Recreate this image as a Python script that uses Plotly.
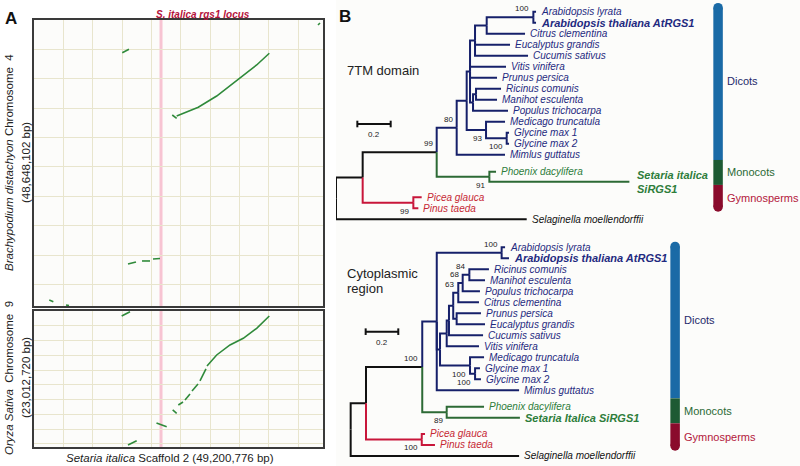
import plotly.graph_objects as go

# ---------------- Panel A: dot plots (values in Mb) ----------------
scaffold_len = 49.200776      # Setaria italica scaffold 2
brachy_len = 48.648102        # Brachypodium chr 4
oryza_len = 23.012720         # Oryza chr 9
locus_mb = (21.37, 21.88)     # S. italica rgs1 locus

# syntenic hits: (scaffold Mb, chromosome Mb from top)
brachy_hits = [
    [(15.03, 5.56), (16.17, 4.98)],
    [(23.54, 16.16), (24.29, 16.72)],
    [(24.29, 16.33), (27.97, 14.85), (31.10, 12.93), (34.51, 10.21), (37.91, 7.65), (40.06, 5.66)],
    [(16.00, 41.50), (17.36, 41.16)],
    [(18.39, 40.99), (19.75, 40.99)],
    [(20.26, 40.65), (21.45, 40.57)],
    [(2.60, 47.63), (3.29, 47.92)],
    [(5.45, 48.48), (5.96, 48.57)],
    [(48.35, 0.85), (48.69, 0.51)],
]
oryza_hits = [
    [(14.93, 0.85), (16.34, 0.12)],
    [(16.00, 22.67), (17.48, 21.95)],
    [(20.85, 18.95), (22.59, 19.58)],
    [(23.61, 16.75), (24.29, 17.31)],
    [(24.57, 15.90), (25.37, 15.40)],
    [(25.71, 15.06), (26.56, 14.04)],
    [(26.90, 13.54), (27.92, 12.35)],
    [(28.26, 11.84), (29.28, 9.81)],
    [(29.45, 9.31), (31.10, 7.44), (33.37, 5.75), (35.63, 4.62), (37.91, 2.93), (40.06, 0.85)],
]

# ---------------- Panel B: trees (branch lengths, bootstrap labels) ----------------
tm_arab = "(Arabidopsis_lyrata:0.016,Arabidopsis_thaliana_AtRGS1:0.016)100:0.280"
tm_g = f"(({tm_arab},Citrus_clementina:0.230):0.070,Eucalyptus_grandis:0.210,Cucumis_sativus:0.318):0.030"
tm_h = "((Ricinus_comunis:0.150,Manihot_esculenta:0.126):0.018,Populus_trichocarpa:0.210):0.018"
tm_t = f"({tm_g},Vitis_vinifera:0.216,Prunus_persica:0.162,{tm_h}):0.020"
tm_m = "(Medicago_truncatula:0.114,(Glycine_max_1:0.014,Glycine_max_2:0.014)100:0.124)93:0.116"
tm_d = f"(({tm_t},{tm_m}):0.060,Mimlus_guttatus:0.290)80:0.120"
tm_mono = "(Phoenix_dacylifera:0.040,Setaria_italica_SiRGS1:0.840)91:0.316"
tm_gym = "(Picea_glauca:0.050,Pinus_taeda:0.030)99:0.304"
newick_7tm = f"((({tm_d},{tm_mono})99:0.444,{tm_gym}):0.160,Selaginella_moellendorffii:1.144);"
rows_7tm = list(range(14)) + [14.55, 15.45, 16.87, 17.87, 18.87]

cy_r = "(Ricinus_comunis:0.120,Manihot_esculenta:0.096)84:0.041"
cy_rmpc = f"(({cy_r},Populus_trichocarpa:0.106)68:0.027,Citrus_clementina:0.127)63:0.031"
cy_pe = "(Prunus_persica:0.149,Eucalyptus_grandis:0.174):0.021"
cy_w = f"((({cy_rmpc},{cy_pe}):0.026,Cucumis_sativus:0.209):0.014,Vitis_vinifera:0.198):0.041"
cy_m = "(Medicago_truncatula:0.086,(Glycine_max_1:0.030,Glycine_max_2:0.036)100:0.031)100:0.184"
cy_arab = "(Arabidopsis_lyrata:0.021,Arabidopsis_thaliana_AtRGS1:0.045)100:0.398"
cy_d = f"({cy_arab},({cy_w},{cy_m}):0.020,Mimlus_guttatus:0.505):0.089"
cy_mono = "(Phoenix_dacylifera:0.229,Setaria_Italica_SiRGS1:0.449)89:0.150"
cy_gym = "(Picea_glauca:0.020,Pinus_taeda:0.081)100:0.342"
newick_cyto = f"((({cy_d},{cy_mono})100:0.345,{cy_gym}):0.094,Selaginella_moellendorffii:1.033);"
rows_cyto = list(range(14)) + [14.49, 15.49, 16.97, 17.97, 18.97]

monocots = ["Phoenix_dacylifera", "Setaria_italica_SiRGS1", "Setaria_Italica_SiRGS1"]
gymnosperms = ["Picea_glauca", "Pinus_taeda"]
outgroup = ["Selaginella_moellendorffii"]

clade_names = ["Dicots", "Monocots", "Gymnosperms"]
clade_spans_7tm = [(-0.80, 13.48), (13.48, 15.75), (15.75, 18.18)]
clade_spans_cyto = [(-0.51, 13.73), (13.73, 16.00), (16.00, 18.49)]

BLUE, GREEN, RED, BLACK = "#16206a", "#2c6a35", "#c8163a", "#111111"
LBLUE, LGREEN, LRED = "#1f2a80", "#2e7d3a", "#c62834"
bar_colors = ["#1a6aa6", "#1d5a33", "#8a0b2c"]
bar_text = ["#1f2a6b", "#2b6a37", "#b3173b"]
FONT = "Liberation Sans, Arial, sans-serif"


def parse_newick(s):
    pos = 0

    def node():
        nonlocal pos
        n = {"children": [], "name": "", "bl": 0.0}
        if s[pos] == "(":
            pos += 1
            n["children"].append(node())
            while s[pos] == ",":
                pos += 1
                n["children"].append(node())
            pos += 1
        start = pos
        while s[pos] not in ":,();":
            pos += 1
        n["name"] = s[start:pos]
        if s[pos] == ":":
            pos += 1
            start = pos
            while s[pos] not in ",();":
                pos += 1
            n["bl"] = float(s[start:pos])
        return n

    return node()


def tip_color(name):
    if name in monocots:
        return GREEN
    if name in gymnosperms:
        return RED
    if name in outgroup:
        return BLACK
    return BLUE


def layout_tree(root, rows):
    leaves = []

    def walk(n, x0):
        n["x"] = x0 + n["bl"]
        for c in n["children"]:
            walk(c, n["x"])
        if not n["children"]:
            n["y"] = rows[len(leaves)]
            n["color"] = tip_color(n["name"])
            leaves.append(n)
        else:
            n["y"] = (n["children"][0]["y"] + n["children"][-1]["y"]) / 2
            cols = {c["color"] for c in n["children"]}
            n["color"] = cols.pop() if len(cols) == 1 else BLACK

    walk(root, 0.0)
    return leaves


fig = go.Figure()
annotations = []
shapes = []

# ---- dot plots ----
for hits, ax, ya in [(brachy_hits, "x", "y"), (oryza_hits, "x2", "y2")]:
    xs, ys = [], []
    for seg in hits:
        xs += [p[0] for p in seg] + [None]
        ys += [p[1] for p in seg] + [None]
    fig.add_trace(go.Scatter(x=xs, y=ys, mode="lines", xaxis=ax, yaxis=ya,
                             line=dict(color="#2f8a3a", width=1.6), hoverinfo="skip"))
    shapes.append(dict(type="rect", xref=ax, yref=ya + " domain", x0=locus_mb[0], x1=locus_mb[1],
                       y0=0, y1=1, fillcolor="#f7c4d2", line_width=0, layer="below"))

# ---- trees ----
trees = [
    (newick_7tm, rows_7tm, "x3", "y3", clade_spans_7tm, 2.292, (0.128, 10.21),
     {"Setaria_italica_SiRGS1": "Setaria italica<br>SiRGS1"}),
    (newick_cyto, rows_cyto, "x4", "y4", clade_spans_cyto, 1.99, (0.092, 7.67), {}),
]
for nwk, rows, ax, ya, spans, bar_x, sbar, relabel in trees:
    root = parse_newick(nwk)
    leaves = layout_tree(root, rows)
    segs = {}

    def collect(n):
        for i, c in enumerate(n["children"]):
            xs, ys = segs.setdefault(c["color"], ([], []))
            xs += [n["x"], n["x"], c["x"], None]
            ys += [n["y"], c["y"], c["y"], None]
            if c["children"] and c["name"]:
                above = i == 0
                annotations.append(dict(x=c["x"], y=c["y"], xref=ax, yref=ya, text=c["name"],
                                        showarrow=False, xanchor="right",
                                        yanchor="bottom" if above else "top",
                                        xshift=-2, yshift=2 if above else -2,
                                        font=dict(size=8, color="#222", family=FONT)))
            collect(c)

    collect(root)
    for col, (xs, ys) in segs.items():
        fig.add_trace(go.Scatter(x=xs, y=ys, mode="lines", xaxis=ax, yaxis=ya,
                                 line=dict(color=col, width=2), hoverinfo="skip"))

    for lf in leaves:
        nm = lf["name"]
        txt = relabel.get(nm, nm.replace("_", " "))
        col = {BLUE: LBLUE, GREEN: LGREEN, RED: LRED}.get(lf["color"], BLACK)
        bold = "RGS1" in nm
        annotations.append(dict(x=lf["x"], y=lf["y"], xref=ax, yref=ya,
                                text=f"<b><i>{txt}</i></b>" if bold else f"<i>{txt}</i>",
                                showarrow=False, xanchor="left", yanchor="middle",
                                xshift=6 if "<br>" in txt else 3, align="left",
                                font=dict(size=11 if bold else 10, color=col, family=FONT)))

    # scale bar
    x0, r = sbar
    fig.add_trace(go.Scatter(x=[x0, x0 + 0.2, None, x0, x0, None, x0 + 0.2, x0 + 0.2],
                             y=[r, r, None, r - 0.3, r + 0.3, None, r - 0.3, r + 0.3],
                             mode="lines", xaxis=ax, yaxis=ya,
                             line=dict(color=BLACK, width=2), hoverinfo="skip"))
    annotations.append(dict(x=x0 + 0.1, y=r + 0.35, xref=ax, yref=ya, text="0.2", showarrow=False,
                            yanchor="top", font=dict(size=8, color="#222", family=FONT)))

    # clade bars
    rad = 0.43
    for k, (a, b) in enumerate(spans):
        ya0 = a + rad if k == 0 else a
        yb0 = b - rad if k == len(spans) - 1 else b
        fig.add_trace(go.Scatter(x=[bar_x, bar_x], y=[ya0, yb0], mode="lines", xaxis=ax, yaxis=ya,
                                 line=dict(color=bar_colors[k], width=9.5), hoverinfo="skip"))
        ends = ([ya0] if k == 0 else []) + ([yb0] if k == len(spans) - 1 else [])
        if ends:
            fig.add_trace(go.Scatter(x=[bar_x] * len(ends), y=ends, mode="markers", xaxis=ax, yaxis=ya,
                                     marker=dict(color=bar_colors[k], size=9.5, line_width=0),
                                     hoverinfo="skip"))
        annotations.append(dict(x=bar_x, y=(a + b) / 2, xref=ax, yref=ya, text=clade_names[k],
                                showarrow=False, xanchor="left", xshift=7,
                                font=dict(size=11, color=bar_text[k], family=FONT)))

# ---- free text ----
W, H = 800, 466


def px(x, y):
    return x / W, 1 - y / H


def note(x, y, text, size, color="#222", angle=0, xanchor="center"):
    px_, py_ = px(x, y)
    annotations.append(dict(x=px_, y=py_, xref="paper", yref="paper", text=text, showarrow=False,
                            textangle=angle, xanchor=xanchor, yanchor="middle",
                            font=dict(size=size, color=color, family=FONT)))


note(3, 18, "<b>A</b>", 17, "#111", xanchor="left")
note(337, 17, "<b>B</b>", 17, "#111", xanchor="left")
note(154, 14, "<b><i>S. italica rgs1 locus</i></b>", 10, "#b5123a", xanchor="left")
note(9, 163, "<i>Brachypodium distachyon</i> Chromosome  4", 11.5, angle=-90)
note(26, 163, "(48,648,102 bp)", 11.5, angle=-90)
note(9, 378, "<i>Oryza Sativa</i>  Chromosome  9", 11.5, angle=-90)
note(26, 378, "(23,012,720 bp)", 11.5, angle=-90)
note(170, 458, "<i>Setaria italica</i> Scaffold 2 (49,200,776 bp)", 11.5)
note(345, 71, "7TM domain", 13, xanchor="left")
note(345, 273, "Cytoplasmic", 13, xanchor="left")
note(345, 288, "region", 13, xanchor="left")

dot_axis = dict(showticklabels=False, ticks="", showgrid=True, gridcolor="#e8e5cd", gridwidth=1,
                zeroline=False, showline=True, mirror=True, linecolor="#3a3a3a", linewidth=2)
hidden = dict(visible=False, showgrid=False, zeroline=False)

fig.update_layout(
    width=W, height=H, autosize=False,
    margin=dict(l=0, r=0, t=0, b=0),
    paper_bgcolor="white", plot_bgcolor="#fcfcfa",
    showlegend=False,
    xaxis=dict(dot_axis, domain=[34 / W, 323 / W], range=[0, scaffold_len], dtick=5, anchor="y"),
    yaxis=dict(dot_axis, domain=[1 - 306 / H, 1 - 20 / H], range=[brachy_len, 0], dtick=5, anchor="x"),
    xaxis2=dict(dot_axis, domain=[34 / W, 323 / W], range=[0, scaffold_len], dtick=5, anchor="y2"),
    yaxis2=dict(dot_axis, domain=[1 - 447 / H, 1 - 311 / H], range=[oryza_len, 0], dtick=2.5, anchor="x2"),
    xaxis3=dict(hidden, domain=[336 / W, 1], range=[0, 464 / 166.7], anchor="y3"),
    yaxis3=dict(hidden, domain=[1 - 232 / H, 1], range=[20.03, -1.064], anchor="x3"),
    xaxis4=dict(hidden, domain=[336 / W, 1], range=[-0.090, 2.756], anchor="y4"),
    yaxis4=dict(hidden, domain=[0, 1 - 232 / H], range=[19.88, -1.39], anchor="x4"),
    annotations=annotations,
    shapes=shapes,
)

# the page body has a default 8px margin; drop it so the figure sits at the window corner
fig.write_html("out.html", config={"displayModeBar": False},
               post_script="document.body.style.margin='0px';")
